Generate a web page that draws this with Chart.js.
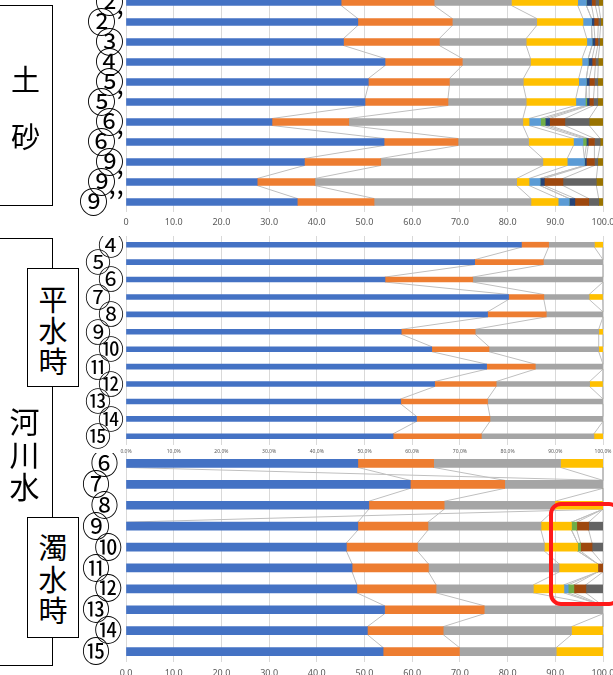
<!DOCTYPE html>
<html>
<head>
<meta charset="utf-8">
<script src="https://cdn.jsdelivr.net/npm/chart.js@4"></script>
<style>
  html, body { margin: 0; padding: 0; background: #fff; overflow: hidden; }
  body { width: 613px; height: 675px; position: relative; font-family: "Noto Sans CJK JP", sans-serif; }
  canvas { position: absolute; left: 0; }
  .box { position: absolute; border: 1px solid #000; box-sizing: border-box; }
  .inner { background: #fff; z-index: 3; }
  .ch { position: absolute; width: 100%; text-align: center; line-height: 1; }
  .red { position: absolute; left: 549px; top: 502px; width: 72px; height: 104px;
         border: 4px solid #ff1a1a; border-radius: 12px; box-sizing: border-box; z-index: 4; }
</style>
</head>
<body>
<canvas id="soilChart" style="top:-8px"></canvas>
<canvas id="lowChart" style="top:236px"></canvas>
<canvas id="floodChart" style="top:453px"></canvas>

<div class="box" style="left:-2px; top:5px; width:55px; height:201px;">
  <div class="ch" style="top:58px; font-size:29px;">土</div>
  <div class="ch" style="top:115px; font-size:29px;">砂</div>
</div>
<div class="box" style="left:-2px; top:238px; width:55px; height:428px;">
  <div class="ch" style="left:-1px; top:166px; font-size:30px;">河</div>
  <div class="ch" style="left:-1px; top:199px; font-size:30px;">川</div>
  <div class="ch" style="left:-1px; top:231px; font-size:30px;">水</div>
</div>
<div class="box inner" style="left:27px; top:268px; width:52px; height:119px;">
  <div class="ch" style="top:15px; font-size:29px;">平</div>
  <div class="ch" style="top:46px; font-size:29px;">水</div>
  <div class="ch" style="top:77px; font-size:29px;">時</div>
</div>
<div class="box inner" style="left:27px; top:517px; width:52px; height:121px;">
  <div class="ch" style="top:14px; font-size:29px;">濁</div>
  <div class="ch" style="top:46px; font-size:29px;">水</div>
  <div class="ch" style="top:77px; font-size:29px;">時</div>
</div>
<div class="red"></div>

<script>
// Excel-style palette, one colour per component
const palette = ["#4472C4", "#ED7D31", "#A5A5A5", "#FFC000", "#5B9BD5",
                 "#70AD47", "#264478", "#9E480E", "#636363", "#997300"];

// --- 土砂 (soil) ---
const soilLabels = ["②", "②’", "③", "④", "⑤", "⑤’", "⑥", "⑥’", "⑨", "⑨’", "⑨’’"];
const soilBlue   = [45.1, 48.6, 45.6, 54.3, 50.8, 50.1, 30.6, 54.1, 37.4, 27.5, 35.9];
const soilOrange = [19.5, 19.8, 20.1, 16.2, 17.0, 17.4, 16.1, 15.5, 16.0, 12.1, 16.1];
const soilGray   = [16.2, 17.7, 18.2, 14.3, 15.5, 16.4, 36.5, 14.8, 34.0, 42.3, 32.9];
const soilYellow = [13.9, 9.7, 12.7, 10.8, 11.6, 10.4, 1.3, 9.4, 5.1, 2.6, 5.7];
const soilLBlue  = [1.8, 1.8, 1.1, 1.3, 1.6, 2.0, 2.4, 2.0, 3.6, 2.3, 2.3];
const soilGreen  = [0, 0, 0, 0, 0, 0.3, 1.0, 0.7, 0, 0, 0];
const soilDBlue  = [1.1, 0.5, 0.6, 0.8, 0.6, 0.5, 0.9, 0.4, 0.4, 0.9, 1.2];
const soilBrown  = [0.8, 0.9, 0.6, 0.7, 1.1, 0.9, 3.2, 1.3, 1.7, 3.9, 2.9];
const soilDGray  = [0.7, 0.5, 0.4, 0.6, 0.7, 0.9, 5.1, 1.2, 0.7, 7.0, 2.1];
const soilOlive  = [0.9, 0.5, 0.7, 1.0, 1.1, 1.1, 2.9, 0.6, 1.1, 1.4, 0.9];

// --- 河川水 平水時 (normal flow) ---
const lowLabels = ["④", "⑤\u2002", "⑥", "⑦\u2002", "⑧", "⑨\u2002",
                   "⑩", "⑪\u2002", "⑫", "⑬\u2002", "⑭", "⑮\u2002"];
const lowBlue   = [82.9, 73.1, 54.3, 80.2, 75.8, 57.7, 64.1, 75.6, 64.7, 57.6, 60.9, 56.0];
const lowOrange = [5.7, 14.4, 18.4, 7.4, 12.3, 15.5, 12.0, 10.2, 12.9, 18.2, 15.4, 18.5];
const lowGray   = [9.6, 12.5, 27.3, 9.5, 11.9, 25.9, 23.0, 14.2, 19.6, 24.2, 23.7, 23.6];
const lowYellow = [1.8, 0, 0, 2.8, 0, 0.9, 0.9, 0, 2.7, 0, 0, 1.9];
const lowLBlue  = [0, 0, 0, 0.1, 0, 0, 0, 0, 0.1, 0, 0, 0];

// --- 河川水 濁水時 (turbid flow) ---
const floodLabels = ["⑥\u2009", "⑦\u2002", "⑧\u2009", "⑨\u2002", "⑩\u200a", "⑪\u2002",
                     "⑫\u200a", "⑬\u2002", "⑭\u200a", "⑮\u2002"];
const floodBlue   = [48.6, 59.6, 50.9, 48.6, 46.2, 47.4, 48.4, 54.2, 50.6, 53.9];
const floodOrange = [15.9, 19.8, 15.8, 14.7, 14.9, 16.0, 16.6, 20.9, 15.9, 16.0];
const floodGray   = [26.6, 20.6, 23.2, 23.7, 26.6, 27.4, 20.4, 24.9, 26.9, 20.3];
const floodYellow = [8.9, 0, 10.1, 6.4, 7.0, 8.1, 6.4, 0, 6.6, 9.8];
const floodLBlue  = [0, 0, 0, 0, 0, 0, 0.9, 0, 0, 0];
const floodGreen  = [0, 0, 0, 1.1, 0.6, 0, 1.2, 0, 0, 0];
const floodDBlue  = [null, 0, 0, null, null, null, null, null, null, null];
const floodBrown  = [0, 0, 0, 2.5, 2.4, 1.1, 2.5, 0, 0, 0];
const floodDGray  = [0, 0, 0, 3.0, 2.3, 0, 3.6, 0, 0, 0];

const xTicks = [0, 10, 20, 30, 40, 50, 60, 70, 80, 90, 100];

/** grey "series lines" joining each segment end to the next bar */
const seriesLines = {
  id: "seriesLines",
  beforeDatasetsDraw(chart) {
    const ctx = chart.ctx;
    const zero = chart.scales.x.getPixelForValue(0);
    const half = chart.options.datasets.bar.barThickness / 2;
    ctx.save();
    ctx.strokeStyle = "#BFBFBF";
    ctx.lineWidth = 1;
    chart.data.datasets.forEach((ds, k) => {
      const bars = chart.getDatasetMeta(k).data;
      for (let i = 0; i < bars.length - 1; i++) {
        const va = ds.data[i], vb = ds.data[i + 1];
        if (va == null && vb == null) continue;
        const a = bars[i], b = bars[i + 1];
        ctx.beginPath();
        ctx.moveTo(va == null ? zero : a.x, a.y + half);
        ctx.lineTo(vb == null ? zero : b.x, b.y - half);
        ctx.stroke();
      }
    });
    ctx.restore();
  }
};

function makeChart(id, w, h, labels, series, opts) {
  const canvas = document.getElementById(id);
  canvas.width = w;
  canvas.height = h;
  canvas.style.width = w + "px";
  canvas.style.height = h + "px";
  return new Chart(canvas, {
    type: "bar",
    data: {
      labels: labels,
      datasets: series.map((d, i) => ({ data: d, backgroundColor: palette[i], borderWidth: 0 }))
    },
    options: {
      indexAxis: "y",
      responsive: false,
      animation: false,
      devicePixelRatio: 1,
      layout: { padding: { top: 0, right: 22, bottom: 0, left: 0 } },
      datasets: { bar: { barThickness: opts.bar } },
      plugins: { legend: { display: false }, tooltip: { enabled: false } },
      scales: {
        x: {
          stacked: true, min: 0, max: 100,
          afterBuildTicks: s => { s.ticks = xTicks.map(v => ({ value: v })); },
          afterFit: s => { s.height = opts.axisH; },
          grid: { color: "#D9D9D9", drawTicks: false },
          border: { display: false },
          ticks: {
            maxRotation: 0, autoSkip: false, padding: opts.tickPad,
            color: "#595959",
            font: { family: "'Noto Sans'", size: opts.tickSize },
            callback: opts.fmt
          }
        },
        y: {
          stacked: true,
          afterFit: s => { s.width = 126; s.paddingTop = 0; s.paddingBottom = 0; },
          grid: { display: false, drawTicks: false },
          border: { display: false },
          ticks: {
            padding: 2, color: "#000", autoSkip: false,
            font: { family: "'Noto Sans CJK JP'", size: opts.labelSize, lineHeight: 1 }
          }
        }
      }
    },
    plugins: [seriesLines]
  });
}

makeChart("soilChart", 625, 240, soilLabels,
  [soilBlue, soilOrange, soilGray, soilYellow, soilLBlue, soilGreen, soilDBlue, soilBrown, soilDGray, soilOlive],
  { bar: 7, axisH: 20, tickPad: 5, tickSize: 9, labelSize: 29,
    fmt: v => v === 0 ? "0" : v.toFixed(1) });

makeChart("lowChart", 625, 222, lowLabels,
  [lowBlue, lowOrange, lowGray, lowYellow, lowLBlue],
  { bar: 5, axisH: 13, tickPad: 4, tickSize: 5, labelSize: 26,
    fmt: v => v.toFixed(1) + "%" });

makeChart("floodChart", 625, 228, floodLabels,
  [floodBlue, floodOrange, floodGray, floodYellow, floodLBlue, floodGreen, floodDBlue, floodBrown, floodDGray],
  { bar: 8, axisH: 19, tickPad: 6, tickSize: 9, labelSize: 28,
    fmt: v => v.toFixed(1) });
</script>
</body>
</html>
